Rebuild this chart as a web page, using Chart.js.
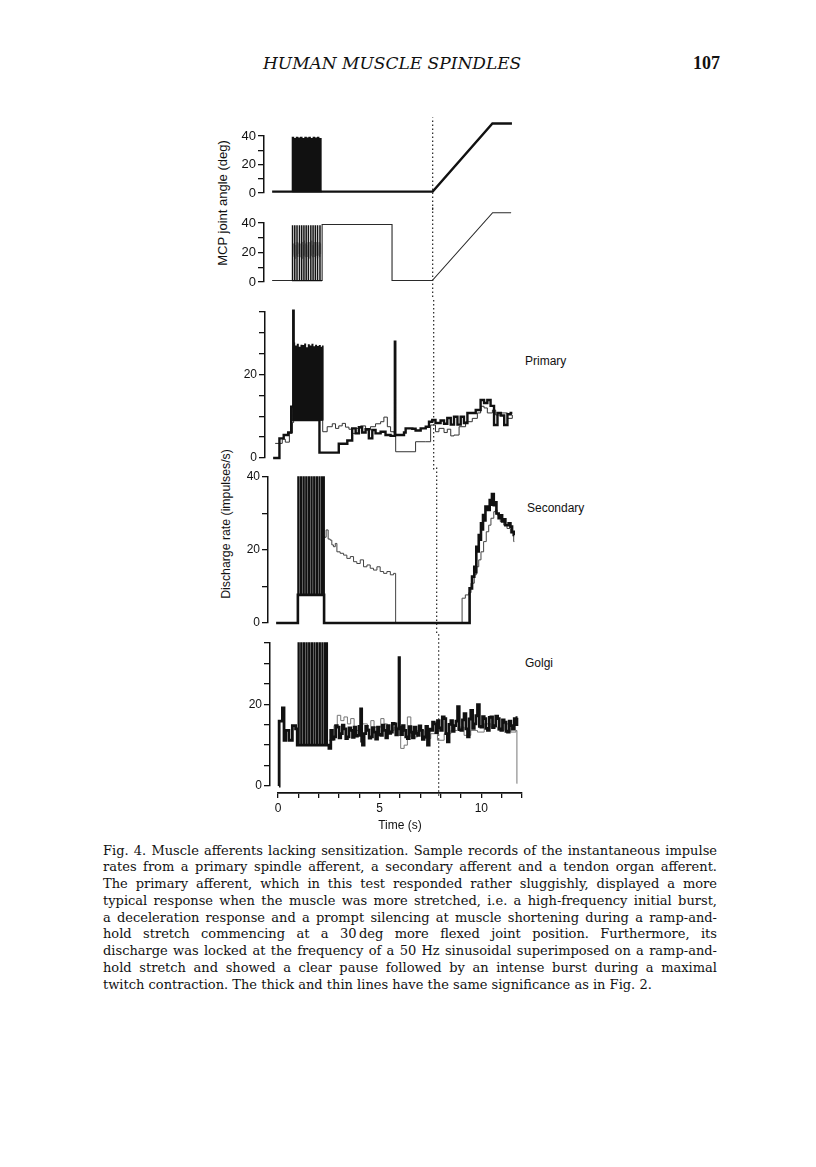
<!DOCTYPE html>
<html>
<head>
<meta charset="utf-8">
<title>Fig. 4 - Muscle afferents lacking sensitization</title>
<script src="https://cdn.jsdelivr.net/npm/chart.js@4.4.1/dist/chart.umd.min.js"></script>
<style>
  html, body { margin: 0; padding: 0; background: #fff; }
  body { width: 816px; height: 1167px; position: relative; overflow: hidden;
         font-family: 'Liberation Sans', Arial, sans-serif; color: #111; }
  canvas { position: absolute; }
  .txt { position: absolute; white-space: nowrap; }
  .head { font-family: 'DejaVu Serif', serif; font-style: italic; font-size: 17px;
          line-height: 17px; top: 55px; left: 263px; }
  .page { font-family: 'Liberation Serif', serif; font-weight: bold; font-size: 18px;
          line-height: 18px; top: 54px; left: 693px; }
  .ytitle { transform: translate(-50%, -50%) rotate(-90deg); }
  .unit { font-size: 12px; line-height: 14px; }
  .caption { position: absolute; left: 103px; top: 842.5px; width: 614px;
             font-family: 'DejaVu Serif', serif; font-size: 13px; color: #111; }
  .caption div { height: 16.75px; line-height: 16.75px; text-align: justify; text-align-last: justify; white-space: nowrap; }
  .caption div.last { text-align-last: left; }
</style>
</head>
<body>

<div class="txt head">HUMAN MUSCLE SPINDLES</div>
<div class="txt page">107</div>

<div class="txt ytitle" style="left:222px; top:203px; font-size:13px;">MCP joint angle (deg)</div>
<div class="txt ytitle" style="left:226px; top:524px; font-size:12.3px;">Discharge rate (impulses/s)</div>

<div class="txt unit" style="left:525px; top:354px;">Primary</div>
<div class="txt unit" style="left:527px; top:501px;">Secondary</div>
<div class="txt unit" style="left:525px; top:656px;">Golgi</div>

<canvas id="angleThickChart" width="302" height="100" style="left:224px; top:110px;"></canvas>
<canvas id="angleThinChart" width="302" height="92" style="left:224px; top:206px;"></canvas>
<canvas id="primaryChart" width="302" height="172" style="left:225px; top:298px;"></canvas>
<canvas id="secondaryChart" width="302" height="168" style="left:228px; top:466px;"></canvas>
<canvas id="golgiChart" width="302" height="164" style="left:230px; top:632px;"></canvas>
<canvas id="timeChart" width="276" height="50" style="left:258px; top:783px;"></canvas>

<div class="caption">
  <div>Fig. 4. Muscle afferents lacking sensitization. Sample records of the instantaneous impulse</div>
  <div>rates from a primary spindle afferent, a secondary afferent and a tendon organ afferent.</div>
  <div>The primary afferent, which in this test responded rather sluggishly, displayed a more</div>
  <div>typical response when the muscle was more stretched, i.e. a high-frequency initial burst,</div>
  <div>a deceleration response and a prompt silencing at muscle shortening during a ramp-and-</div>
  <div>hold stretch commencing at a 30&#8201;deg more flexed joint position. Furthermore, its</div>
  <div>discharge was locked at the frequency of a 50 Hz sinusoidal superimposed on a ramp-and-</div>
  <div>hold stretch and showed a clear pause followed by an intense burst during a maximal</div>
  <div class="last">twitch contraction. The thick and thin lines have the same significance as in Fig. 2.</div>
</div>

<script>
// time axis (s)
const timeTicks = [0, 1, 2, 3, 4, 5, 6, 7, 8, 9, 10, 11, 12];
const timeLabels = [0, 5, 10];
const stretchOnset = 7.9; // dotted line

// MCP joint angle, thick record (deg) [t, value]
const angleThick = [[0, 1], [7.9, 1], [10.84, 48.8], [11.8, 48.8]];
const angleThickBurst = [[0.99, 1], [1.00, 39], [1.05, 1], [1.10, 38], [1.15, 1], [1.20, 39], [1.25, 1],
  [1.31, 38.5], [1.36, 1], [1.41, 39], [1.46, 1], [1.51, 38], [1.56, 1], [1.62, 39], [1.67, 1],
  [1.72, 38.5], [1.77, 1], [1.82, 39], [1.87, 1], [1.93, 38], [1.98, 1], [2.03, 39], [2.08, 1],
  [2.13, 38.5], [2.18, 1], [2.24, 39], [2.29, 1], [2.34, 38], [2.40, 1], [2.45, 1]];

// MCP joint angle, thin record
const angleThin = [[0, 1], [1.0, 1], [2.46, 1], [2.46, 39], [5.9, 39], [5.9, 1], [7.88, 1], [10.85, 47], [11.76, 47]];
const angleThinBurst = [[0.99, 1], [1.00, 38], [1.01, 1], [1.11, 38], [1.12, 1], [1.22, 38], [1.23, 1],
  [1.34, 38], [1.35, 1], [1.45, 38], [1.46, 1], [1.56, 38], [1.57, 1], [1.67, 38], [1.68, 1],
  [1.78, 38], [1.79, 1], [1.90, 38], [1.91, 1], [2.01, 38], [2.02, 1], [2.12, 38], [2.13, 1],
  [2.23, 38], [2.24, 1], [2.35, 38], [2.36, 1], [2.46, 1]];
const angleThinGrey = [[1.02, 18], [1.05, 26], [1.08, 17], [1.11, 27], [1.14, 16], [1.17, 25], [1.20, 18],
  [1.23, 27], [1.26, 17], [1.29, 26], [1.32, 19], [1.35, 28], [1.38, 17], [1.41, 26], [1.44, 18],
  [1.47, 27], [1.50, 16], [1.53, 25], [1.56, 18], [1.59, 28], [1.62, 17], [1.65, 26], [1.68, 19],
  [1.71, 27], [1.74, 17], [1.77, 25], [1.80, 18], [1.83, 27], [1.86, 16], [1.89, 26], [1.92, 18],
  [1.95, 28], [1.98, 17], [2.01, 25], [2.04, 19], [2.07, 27], [2.10, 17], [2.13, 26], [2.16, 18],
  [2.19, 27], [2.22, 16], [2.25, 25], [2.28, 18], [2.31, 27], [2.34, 17], [2.37, 26], [2.40, 19], [2.43, 24]];

// Primary afferent (impulses/s)
const primaryThick = [[0.0, 0], [0.31, 4.7], [0.52, 5.5], [0.74, 6.1], [0.89, 12.3], [0.99, 35.3], [1.01, 9.1],
  [2.28, 1.3], [3.23, 3.4], [3.65, 4.2], [3.89, 7.1], [4.06, 5.9], [4.22, 7.4], [4.38, 6.1], [4.55, 6.9],
  [4.71, 4.7], [4.88, 6.7], [5.04, 5.9], [5.29, 6.3], [5.53, 5.5], [5.78, 5.3], [5.99, 27.9], [6.01, 5.5],
  [6.44, 6.1], [6.52, 7.1], [6.85, 7.0], [7.01, 6.6], [7.26, 7.1], [7.51, 7.5], [7.67, 8.7], [7.83, 9.1],
  [7.99, 8.4], [8.24, 9.0], [8.41, 8.2], [8.57, 9.6], [8.74, 8.0], [8.90, 9.9], [9.07, 8.0], [9.23, 9.9],
  [9.39, 8.4], [9.56, 10.8], [9.80, 10.8], [9.97, 11.5], [10.21, 13.9], [10.38, 13.2], [10.54, 13.9],
  [10.70, 12.5], [10.87, 7.9], [11.04, 10.8], [11.20, 10.2], [11.37, 7.9], [11.53, 10.5], [11.69, 10.8], [11.77, 10.8]];
const primaryBurst = [[1.01, 9.1], [1.02, 27.5], [1.05, 9.1], [1.11, 26.8], [1.14, 9.1], [1.20, 27.2], [1.23, 9.1],
  [1.29, 26.5], [1.32, 9.1], [1.38, 27.0], [1.41, 9.1], [1.47, 26.9], [1.50, 9.1], [1.56, 27.3], [1.59, 9.1],
  [1.65, 26.4], [1.68, 9.1], [1.74, 27.1], [1.77, 9.1], [1.83, 26.8], [1.86, 9.1], [1.92, 27.2], [1.95, 9.1],
  [2.01, 26.6], [2.04, 9.1], [2.10, 27.0], [2.13, 9.1], [2.19, 26.7], [2.22, 9.1], [2.28, 26.9], [2.31, 9.1],
  [2.37, 26.5], [2.40, 9.1], [2.44, 26.8], [2.45, 9.1]];
const primaryThin = [[0.10, 3.5], [0.45, 4.5], [0.60, 3.8], [0.80, 6.0], [0.95, 8.5], [1.01, 9.1],
  [2.44, 6.3], [2.66, 7.5], [2.91, 8.2], [3.07, 7.1], [3.23, 7.7], [3.40, 8.3], [3.56, 7.4], [3.73, 6.9],
  [3.89, 5.9], [4.06, 7.1], [4.30, 7.7], [4.55, 6.7], [4.79, 7.5], [5.04, 8.2], [5.29, 8.7], [5.45, 9.8],
  [5.62, 7.5], [5.78, 6.3], [5.95, 5.9], [6.03, 1.5], [7.01, 3.9], [7.51, 3.9], [7.75, 7.9], [7.99, 6.3],
  [8.16, 7.1], [8.41, 6.1], [8.57, 6.9], [8.74, 5.3], [8.90, 5.5], [9.15, 7.5], [9.47, 8.7], [9.80, 9.5],
  [10.05, 10.8], [10.21, 12.4], [10.38, 12.0], [10.54, 10.8], [10.79, 11.5], [10.95, 10.3], [11.20, 10.8],
  [11.53, 9.5], [11.77, 10.3]];

// Secondary afferent
const secondaryThick = [[0.0, 0], [1.07, 7.7], [2.36, 0], [9.52, 9.5], [9.64, 12.7], [9.75, 15.4], [9.80, 13.9],
  [9.85, 20.9], [9.92, 19.6], [9.97, 24.1], [10.03, 22.8], [10.08, 27.3], [10.13, 25.6], [10.18, 29.6],
  [10.24, 28.1], [10.30, 31.9], [10.41, 31.0], [10.51, 33.7], [10.57, 32.4], [10.62, 35.3], [10.71, 32.3],
  [10.78, 33.1], [10.84, 30.0], [10.95, 28.7], [11.03, 29.5], [11.12, 27.8], [11.20, 28.4], [11.28, 26.8],
  [11.44, 27.3], [11.53, 26.4], [11.61, 25.0], [11.69, 24.1], [11.72, 24.1]];
const secondaryBurst = [[1.07, 7.7], [1.08, 40], [1.11, 7.7], [1.21, 40], [1.24, 7.7], [1.34, 40], [1.37, 7.7],
  [1.47, 40], [1.50, 7.7], [1.60, 40], [1.63, 7.7], [1.73, 40], [1.76, 7.7], [1.86, 40], [1.89, 7.7],
  [1.99, 40], [2.02, 7.7], [2.12, 40], [2.15, 7.7], [2.25, 40], [2.28, 7.7], [2.33, 40], [2.36, 7.7]];
const secondaryThin = [[2.36, 23.5], [2.46, 25.5], [2.56, 23.0], [2.66, 22.7], [2.74, 21.4], [2.82, 20.9],
  [2.91, 21.8], [2.99, 19.5], [3.15, 19.1], [3.32, 18.6], [3.48, 17.7], [3.65, 18.2], [3.81, 16.8],
  [3.97, 16.3], [4.14, 17.3], [4.30, 15.4], [4.47, 15.9], [4.63, 15.0], [4.79, 14.5], [4.96, 15.4],
  [5.12, 14.1], [5.29, 13.6], [5.45, 14.1], [5.62, 13.2], [5.78, 13.6], [5.88, 0], [9.15, 6.8], [9.31, 7.7],
  [9.48, 8.3], [9.59, 10.9], [9.75, 13.2], [9.85, 15.4], [9.97, 17.3], [10.08, 19.5], [10.21, 22.3],
  [10.34, 25.0], [10.46, 26.8], [10.57, 28.7], [10.71, 30.5], [10.79, 31.0], [10.87, 29.6], [11.03, 27.8],
  [11.20, 26.8], [11.36, 25.9], [11.53, 24.6], [11.69, 22.3], [11.72, 22.3]];

// Golgi tendon organ afferent
const golgiThick = [[0.04, 0], [0.05, 15.9], [0.21, 19.1], [0.29, 11.2], [0.37, 13.6], [0.53, 11.2], [0.70, 14.8],
  [0.86, 14.0], [0.94, 10.0], [2.50, 9.2], [2.59, 13.6], [2.67, 11.5], [2.75, 12.0], [2.83, 14.8], [2.91, 14.4],
  [3.00, 11.8], [3.08, 12.8], [3.16, 14.9], [3.24, 14.0], [3.33, 11.6], [3.41, 12.0], [3.49, 14.2], [3.57, 13.6],
  [3.66, 11.9], [3.74, 14.4], [3.82, 12.2], [3.90, 12.4], [3.98, 14.6], [4.06, 18.9], [4.11, 11.0], [4.15, 10.0],
  [4.23, 12.8], [4.31, 14.6], [4.39, 13.6], [4.48, 11.7], [4.56, 12.0], [4.64, 14.3], [4.72, 13.2], [4.80, 11.5],
  [4.89, 14.4], [4.97, 12.6], [5.05, 12.4], [5.13, 14.9], [5.21, 13.6], [5.30, 11.8], [5.38, 14.8], [5.46, 12.9],
  [5.54, 13.2], [5.62, 15.3], [5.71, 15.2], [5.79, 12.5], [5.87, 14.0], [5.95, 31.4], [5.97, 14.4], [6.03, 12.6],
  [6.12, 14.8], [6.20, 13.6], [6.28, 12.0], [6.36, 11.6], [6.45, 14.5], [6.53, 13.2], [6.61, 11.8], [6.69, 14.4],
  [6.78, 12.9], [6.86, 12.4], [6.94, 14.7], [7.02, 13.6], [7.10, 11.4], [7.18, 12.0], [7.27, 14.6], [7.35, 10.0],
  [7.43, 13.9], [7.51, 13.6], [7.60, 15.6], [7.68, 15.2], [7.76, 13.1], [7.84, 16.0], [7.92, 14.2], [8.00, 13.6],
  [8.08, 16.9], [8.17, 16.5], [8.25, 12.8], [8.33, 10.8], [8.41, 15.1], [8.50, 16.0], [8.58, 13.4], [8.66, 14.8],
  [8.75, 15.9], [8.83, 19.4], [8.91, 13.8], [8.99, 13.6], [9.07, 16.2], [9.15, 17.7], [9.24, 14.0], [9.32, 12.0],
  [9.40, 16.4], [9.48, 18.5], [9.57, 14.1], [9.65, 15.2], [9.73, 17.2], [9.81, 19.9], [9.90, 14.6], [9.98, 14.4],
  [10.06, 17.0], [10.14, 16.5], [10.22, 14.1], [10.30, 13.6], [10.39, 16.8], [10.47, 16.9], [10.55, 14.3],
  [10.63, 14.8], [10.71, 17.1], [10.80, 16.5], [10.88, 14.0], [10.96, 13.6], [11.04, 16.2], [11.12, 15.6],
  [11.21, 13.4], [11.29, 13.2], [11.37, 15.9], [11.45, 14.8], [11.53, 13.9], [11.62, 16.5], [11.70, 15.0],
  [11.75, 16.7], [11.78, 16.7]];
const golgiBurst = [[0.98, 10], [0.99, 35], [1.03, 10], [1.12, 35], [1.16, 10], [1.25, 35], [1.29, 10],
  [1.38, 35], [1.42, 10], [1.51, 35], [1.55, 10], [1.64, 35], [1.68, 10], [1.77, 35], [1.81, 10],
  [1.90, 35], [1.94, 10], [2.03, 35], [2.07, 10], [2.16, 35], [2.20, 10], [2.29, 35], [2.33, 10],
  [2.38, 35], [2.42, 10]];
const golgiThin = [[2.50, 11.2], [2.75, 14.8], [2.91, 17.3], [3.08, 16.0], [3.24, 16.9], [3.41, 15.2],
  [3.57, 16.5], [3.74, 13.6], [4.06, 15.2], [4.39, 14.0], [4.56, 16.0], [4.72, 14.4], [5.05, 16.5],
  [5.21, 15.2], [5.38, 13.6], [5.71, 14.4], [6.03, 9.2], [6.20, 10.0], [6.36, 16.9], [6.53, 12.0],
  [6.86, 13.6], [7.18, 11.6], [7.51, 12.8], [7.84, 11.2], [8.17, 12.8], [8.50, 13.6], [8.83, 14.4],
  [9.15, 12.4], [9.48, 13.6], [9.81, 13.2], [10.14, 15.2], [10.47, 14.4], [10.80, 13.6], [11.12, 15.2],
  [11.45, 13.2], [11.70, 13.6], [11.75, 0.6], [11.76, 0.6]];

const XMIN = -0.4, XMAX = 12;
const INK = '#111';

Chart.defaults.font.family = "'Liberation Sans', Arial, sans-serif";
Chart.defaults.color = INK;

function trace(arr, width, color, stepped) {
  return {
    data: arr.map(p => ({ x: p[0], y: p[1] })),
    borderColor: color,
    borderWidth: width,
    stepped: stepped ? 'before' : false,
    pointRadius: 0,
    borderJoinStyle: 'miter',
    clip: false,
  };
}

function onsetLine(top) {
  return {
    data: [{ x: stretchOnset, y: -1000 }, { x: stretchOnset, y: top }],
    borderColor: '#222',
    borderWidth: 1.2,
    borderDash: [1.5, 2.5],
    pointRadius: 0,
    clip: false,
  };
}

function makePanel(id, opts, datasets) {
  const ctx = document.getElementById(id).getContext('2d');
  return new Chart(ctx, {
    type: 'line',
    data: { datasets },
    options: {
      responsive: false,
      animation: false,
      events: [],
      layout: { padding: { top: opts.padTop, bottom: opts.padBottom, left: 0, right: 10 } },
      plugins: { legend: { display: false }, tooltip: { enabled: false } },
      scales: {
        x: { type: 'linear', min: XMIN, max: XMAX, display: false },
        y: {
          min: 0, max: opts.yMax,
          afterFit: (s) => { s.width = 40; },
          border: { color: INK, width: 1.5 },
          grid: { drawOnChartArea: false, drawTicks: true, tickLength: 6, color: INK, lineWidth: 1.3 },
          ticks: {
            stepSize: opts.step, autoSkip: false, padding: 2, color: INK,
            font: { size: opts.font },
            callback: (v) => (opts.labels.includes(v) ? String(v) : ''),
          },
        },
      },
    },
  });
}

makePanel('angleThickChart', { padTop: 26, padBottom: 17, yMax: 40, step: 10, font: 13, labels: [0, 20, 40] }, [
  trace(angleThickBurst, 1.5, INK, true),
  trace(angleThick, 2.4, INK, false),
  onsetLine(53),
]);

makePanel('angleThinChart', { padTop: 17, padBottom: 16, yMax: 40, step: 10, font: 13, labels: [0, 20, 40] }, [
  trace(angleThinBurst, 1.3, INK, true),
  trace(angleThinGrey, 1, '#9a9a9a', false),
  trace(angleThin, 1.1, '#2a2a2a', false),
  onsetLine(1000),
]);

makePanel('primaryChart', { padTop: 14, padBottom: 12, yMax: 35, step: 5, font: 12, labels: [0, 20] }, [
  trace(primaryBurst, 1.4, INK, true),
  trace(primaryThick, 2.4, INK, true),
  trace(primaryThin, 1, '#333', true),
  onsetLine(1000),
]);

makePanel('secondaryChart', { padTop: 11, padBottom: 11, yMax: 40, step: 10, font: 12, labels: [0, 20, 40] }, [
  trace(secondaryBurst, 1.7, INK, true),
  trace(secondaryThick, 2.6, INK, true),
  trace(secondaryThin, 1, '#444', true),
  onsetLine(1000),
]);

makePanel('golgiChart', { padTop: 11, padBottom: 10, yMax: 35, step: 5, font: 12, labels: [0, 20] }, [
  trace(golgiBurst, 1.5, INK, true),
  trace(golgiThick, 2.8, INK, true),
  trace(golgiThin, 1, '#777', true),
  onsetLine(1000),
]);

// shared time axis under the panels
new Chart(document.getElementById('timeChart').getContext('2d'), {
  type: 'line',
  data: { datasets: [] },
  options: {
    responsive: false,
    animation: false,
    events: [],
    layout: { padding: { top: 0, bottom: 0, left: 20, right: 12 } },
    plugins: { legend: { display: false }, tooltip: { enabled: false } },
    scales: {
      x: {
        type: 'linear', min: 0, max: 12,
        afterBuildTicks: (s) => { s.ticks = timeTicks.map(v => ({ value: v })); },
        afterFit: (s) => { s.height = 40; },
        border: { color: INK, width: 1.8 },
        grid: { drawOnChartArea: false, drawTicks: true, tickLength: 5, color: INK, lineWidth: 1.3 },
        ticks: {
          autoSkip: false, maxRotation: 0, padding: 3, color: INK, font: { size: 12 },
          callback: (v) => (timeLabels.includes(v) ? String(v) : ''),
        },
        title: { display: true, text: 'Time (s)', color: INK, font: { size: 12 }, padding: { top: 0, bottom: 0 } },
      },
      y: { display: false, min: 0, max: 1 },
    },
  },
});
</script>
</body>
</html>
